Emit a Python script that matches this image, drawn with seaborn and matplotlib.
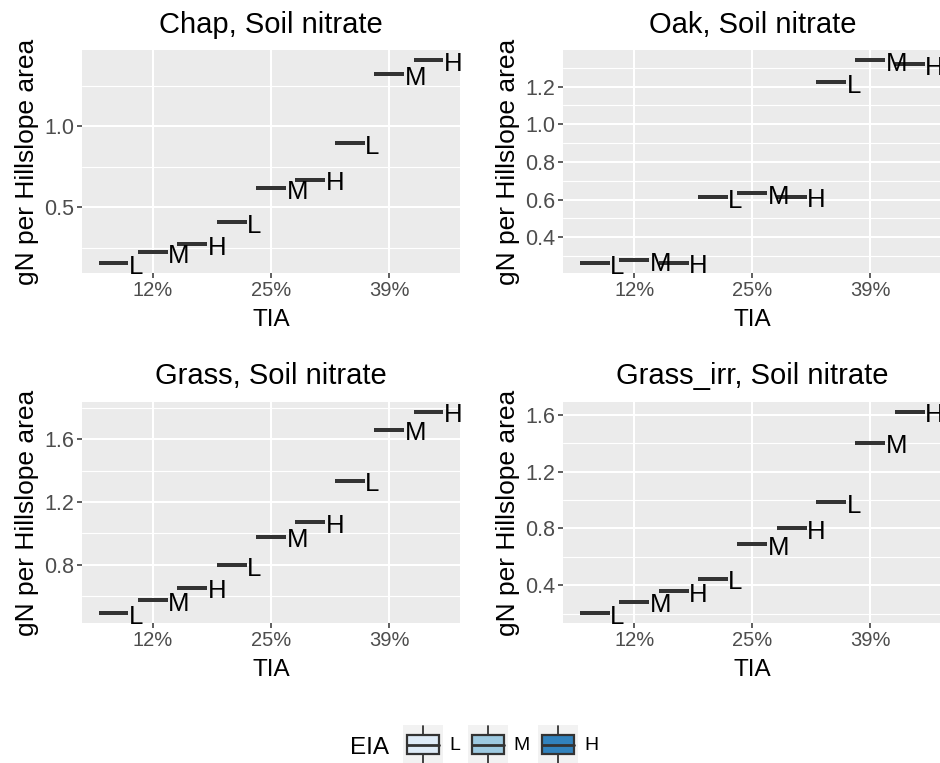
import matplotlib
matplotlib.use("Agg")
import matplotlib.pyplot as plt
import numpy as np
import pandas as pd
import seaborn as sns
from matplotlib.patches import Rectangle, Patch
from matplotlib.lines import Line2D
from matplotlib.legend_handler import HandlerBase
from matplotlib.ticker import MultipleLocator, FormatStrFormatter, NullLocator

# ---- data -------------------------------------------------------------
sites = ["Chap", "Oak", "Grass", "Grass_irr"]
tia_levels = ["12%", "25%", "39%"]
eia_levels = ["L", "M", "H"]
eia_colors = ["#DEEBF7", "#9ECAE1", "#3182BD"]

# soil nitrate, gN per hillslope area; rows = TIA level, columns = EIA (L, M, H)
chap = [[0.155, 0.223, 0.273], [0.408, 0.617, 0.672], [0.897, 1.324, 1.410]]
oak = [[0.262, 0.278, 0.265], [0.611, 0.635, 0.614], [1.223, 1.341, 1.320]]
grass = [[0.492, 0.576, 0.653], [0.796, 0.978, 1.072], [1.336, 1.659, 1.774]]
grass_irr = [[0.202, 0.284, 0.358], [0.445, 0.688, 0.800], [0.986, 1.405, 1.623]]

site_values = {"Chap": chap, "Oak": oak, "Grass": grass, "Grass_irr": grass_irr}
y_steps = {"Chap": 0.5, "Oak": 0.2, "Grass": 0.4, "Grass_irr": 0.4}

rows = []
for site in sites:
    for i, tia in enumerate(tia_levels):
        for j, eia in enumerate(eia_levels):
            rows.append({"site": site, "TIA": tia, "EIA": eia,
                         "value": site_values[site][i][j]})
df = pd.DataFrame(rows)

# ---- style ------------------------------------------------------------
sns.set_theme(style="darkgrid")
plt.rcParams["font.family"] = ["Liberation Sans", "DejaVu Sans"]
plt.rcParams["axes.facecolor"] = "#EBEBEB"
plt.rcParams["figure.facecolor"] = "white"

W, H = 940, 763
fig = plt.figure(figsize=(W / 100, H / 100), dpi=100)


def px_rect(left, top, width, height):
    return [left / W, 1 - (top + height) / H, width / W, height / H]


panel_rects = [
    px_rect(82, 50, 378, 223.3),
    px_rect(563.3, 50, 378, 223.3),
    px_rect(82, 401.7, 378, 221.6),
    px_rect(563.3, 401.7, 378, 221.6),
]

n_hue = len(eia_levels)
total_width = 1.0
gap = 0.24
box_w = total_width / n_hue * (1 - gap)

for site, rect in zip(sites, panel_rects):
    ax = fig.add_axes(rect)
    sub = df[df["site"] == site]
    sns.boxplot(data=sub, x="TIA", y="value", hue="EIA",
                order=tia_levels, hue_order=eia_levels, palette=eia_colors,
                width=total_width, gap=gap, linewidth=2.8,
                linecolor="#333333", legend=False, ax=ax)

    ax.set_xlim(-0.6, len(tia_levels) - 0.4)
    lo, hi = sub["value"].min(), sub["value"].max()
    pad = 0.05 * (hi - lo)
    ax.set_ylim(lo - pad, hi + pad)

    step = y_steps[site]
    ax.yaxis.set_major_locator(MultipleLocator(step))
    ax.yaxis.set_minor_locator(MultipleLocator(step / 2))
    ax.yaxis.set_major_formatter(FormatStrFormatter("%.1f"))
    ax.xaxis.set_minor_locator(NullLocator())

    ax.set_axisbelow(True)
    ax.grid(False)
    ax.xaxis.grid(True, which="major", color="white", linewidth=1.5)
    ax.yaxis.grid(True, which="major", color="white", linewidth=1.5)
    ax.yaxis.grid(True, which="minor", color="white", linewidth=0.8)
    for s in ax.spines.values():
        s.set_visible(False)

    ax.tick_params(axis="both", which="major", length=3.8, width=1.1,
                   color="#333333", labelcolor="#4D4D4D", labelsize=14.5,
                   pad=2, bottom=True, left=True)
    ax.tick_params(axis="y", which="major", labelsize=15.5)
    ax.tick_params(axis="y", which="minor", length=0)

    ax.set_title(f"{site}, Soil nitrate", fontsize=21, color="black", pad=12.5)
    ax.set_xlabel("TIA", fontsize=17.5, color="black")
    ax.set_ylabel("gN per Hillslope area", fontsize=19, color="black")
    h_px = rect[3] * H
    ax.xaxis.set_label_coords(0.5, -36 / h_px)
    ax.yaxis.set_label_coords(-43 / 378, 0.5)

    # EIA letter next to each box
    for i, tia in enumerate(tia_levels):
        for j, eia in enumerate(eia_levels):
            val = site_values[site][i][j]
            x_right = i + (j - (n_hue - 1) / 2) * total_width / n_hue + box_w / 2
            ax.annotate(eia, xy=(x_right, val), xytext=(0.3, -7.6),
                        textcoords="offset points", ha="left", va="baseline",
                        fontsize=18.5, color="black", annotation_clip=False)


# ---- legend -----------------------------------------------------------
class BoxKey(HandlerBase):
    def create_artists(self, legend, orig_handle, xdescent, ydescent,
                       width, height, fontsize, trans):
        x0, y0 = -xdescent, -ydescent
        cx = x0 + width / 2
        cy = y0 + height / 2
        bg = Rectangle((x0, y0), width, height, facecolor="#F2F2F2",
                       edgecolor="none", transform=trans)
        whisker = Line2D([cx, cx], [y0 + 0.02 * height, y0 + 0.98 * height],
                         color="#333333", linewidth=1.3, transform=trans)
        bw, bh = 0.8 * width, 0.5 * height
        box = Rectangle((cx - bw / 2, cy - bh / 2), bw, bh,
                        facecolor=orig_handle.get_facecolor(),
                        edgecolor="#333333", linewidth=1.6, transform=trans)
        med = Line2D([cx - bw / 2, cx + bw / 2], [cy, cy], color="#333333",
                     linewidth=2.0, transform=trans)
        return [bg, whisker, box, med]


handles = [Patch(facecolor=c) for c in eia_colors]
fig.legend(handles, eia_levels, handler_map={Patch: BoxKey()},
           loc="center left", bbox_to_anchor=(403 / W, 1 - 744.5 / H),
           ncol=3, frameon=False, fontsize=14, borderpad=0, borderaxespad=0,
           handlelength=2.06, handleheight=2.7, handletextpad=0.3,
           columnspacing=0.42, labelcolor="black")
fig.text(350 / W, 1 - 754 / H, "EIA", fontsize=17.5, ha="left",
         va="baseline", color="black")

fig.savefig("out.png", dpi=100)
